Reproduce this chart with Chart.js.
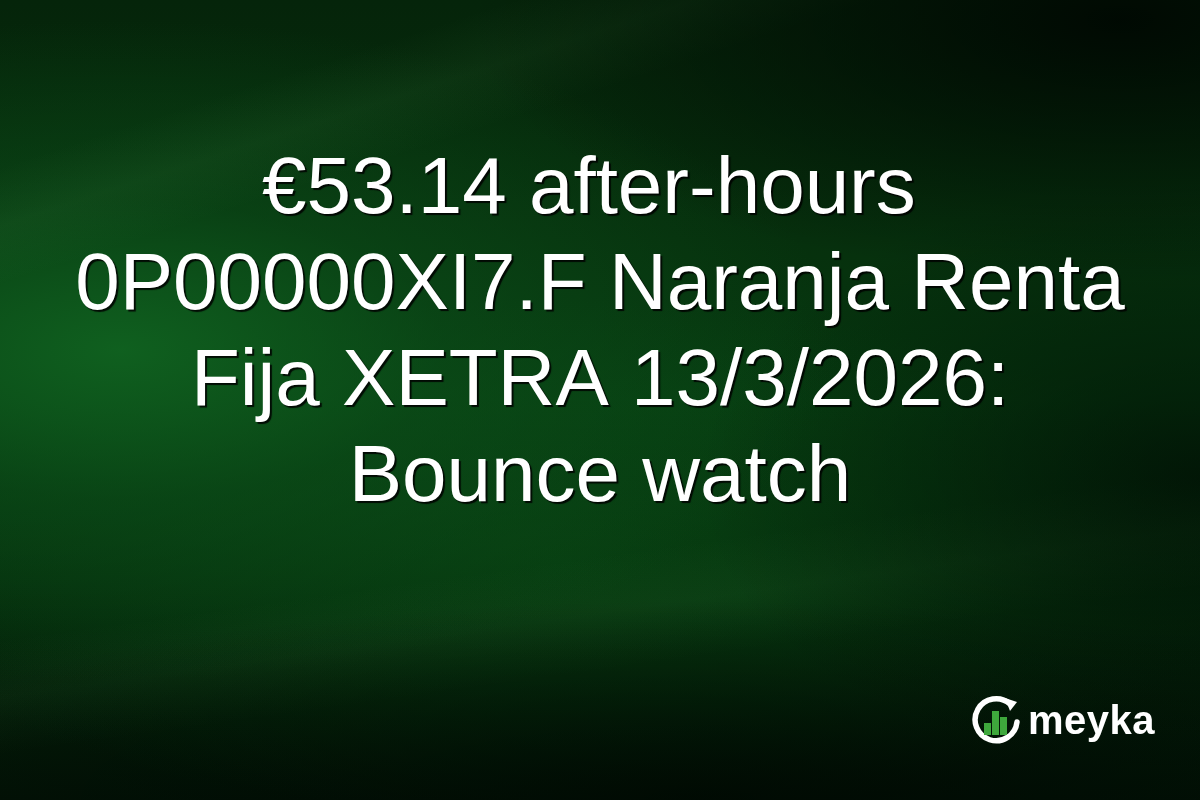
<!DOCTYPE html>
<html>
<head>
<meta charset="utf-8">
<script src="https://cdn.jsdelivr.net/npm/chart.js@4.4.1/dist/chart.umd.min.js"></script>
<style>
  html, body { margin: 0; padding: 0; }
  body {
    width: 1200px; height: 800px; overflow: hidden; position: relative;
    background:
      radial-gradient(ellipse 650px 260px at 1120px 20px, rgba(0,8,2,0.95) 0%, rgba(0,8,2,0) 100%),
      radial-gradient(ellipse 500px 300px at 1200px 480px, rgba(0,10,3,0.7) 0%, rgba(0,10,3,0) 100%),
      radial-gradient(ellipse 900px 200px at 700px 800px, rgba(0,8,2,0.8) 0%, rgba(0,8,2,0) 100%),
      linear-gradient(162deg, rgba(255,255,255,0) 14%, rgba(110,200,110,0.06) 19%, rgba(255,255,255,0) 24%),
      linear-gradient(172deg, rgba(255,255,255,0) 66%, rgba(110,200,110,0.05) 72%, rgba(255,255,255,0) 78%),
      radial-gradient(ellipse 720px 330px at 120px 350px, rgba(16,98,32,0.95) 0%, rgba(12,80,26,0.55) 45%, rgba(0,0,0,0) 100%),
      radial-gradient(ellipse 700px 260px at 560px 560px, rgba(10,78,22,0.55) 0%, rgba(0,0,0,0) 100%),
      linear-gradient(180deg, #05240a 0%, #06300d 30%, #063a10 50%, #042a0b 72%, #021206 100%);
  }
  .wrap { position: absolute; left: 0; top: 0; width: 1200px; height: 800px; }
  .logo { position: absolute; left: 970px; top: 694px; display: flex; align-items: center; }
  .logo span { font-family: "Liberation Sans", Arial, sans-serif; font-weight: bold; font-size: 40px; color: #fff; margin-left: 4px; letter-spacing: 0.5px; }
</style>
</head>
<body>
<div class="wrap"><canvas id="cartao"></canvas></div>
<div class="logo">
  <svg width="54" height="52" viewBox="0 0 54 52">
    <path d="M40 10 A21 21 0 1 0 47 28" fill="none" stroke="#fff" stroke-width="5.5" stroke-linecap="round"/>
    <path d="M35 4 L47 8 L40 17 Z" fill="#fff"/>
    <rect x="14" y="29" width="7" height="12" fill="#3ea83c"/>
    <rect x="22" y="17" width="7" height="24" fill="#3ea83c"/>
    <rect x="30" y="23" width="7" height="18" fill="#3ea83c"/>
  </svg>
  <span>meyka</span>
</div>
<script>
// Linhas do título
const linhasTitulo = [
    '€53.14 after-hours ',
    '0P00000XI7.F Naranja Renta',
    'Fija XETRA 13/3/2026:',
    'Bounce watch'
];

// Sombra do texto
const sombraTitulo = {
    id: 'sombraTitulo',
    beforeDraw(chart) {
        const ctx = chart.ctx;
        ctx.save();
        ctx.shadowColor = 'rgba(0,0,0,0.85)';
        ctx.shadowOffsetX = 2;
        ctx.shadowOffsetY = 2;
        ctx.shadowBlur = 1;
    },
    afterDraw(chart) {
        chart.ctx.restore();
    }
};

const ctx = document.getElementById('cartao').getContext('2d');
new Chart(ctx, {
    type: 'line',
    data: { labels: [], datasets: [] },
    options: {
        responsive: true,
        maintainAspectRatio: false,
        animation: false,
        events: [],
        plugins: {
            legend: { display: false },
            tooltip: { enabled: false },
            title: {
                display: true,
                text: linhasTitulo,
                color: '#ffffff',
                font: { family: "'Liberation Sans', Arial, sans-serif", size: 80, weight: 'normal', lineHeight: 1.2 },
                padding: { top: 143, bottom: 0 }
            }
        },
        scales: {
            x: { display: false },
            y: { display: false }
        }
    },
    plugins: [sombraTitulo]
});
</script>
</body>
</html>
